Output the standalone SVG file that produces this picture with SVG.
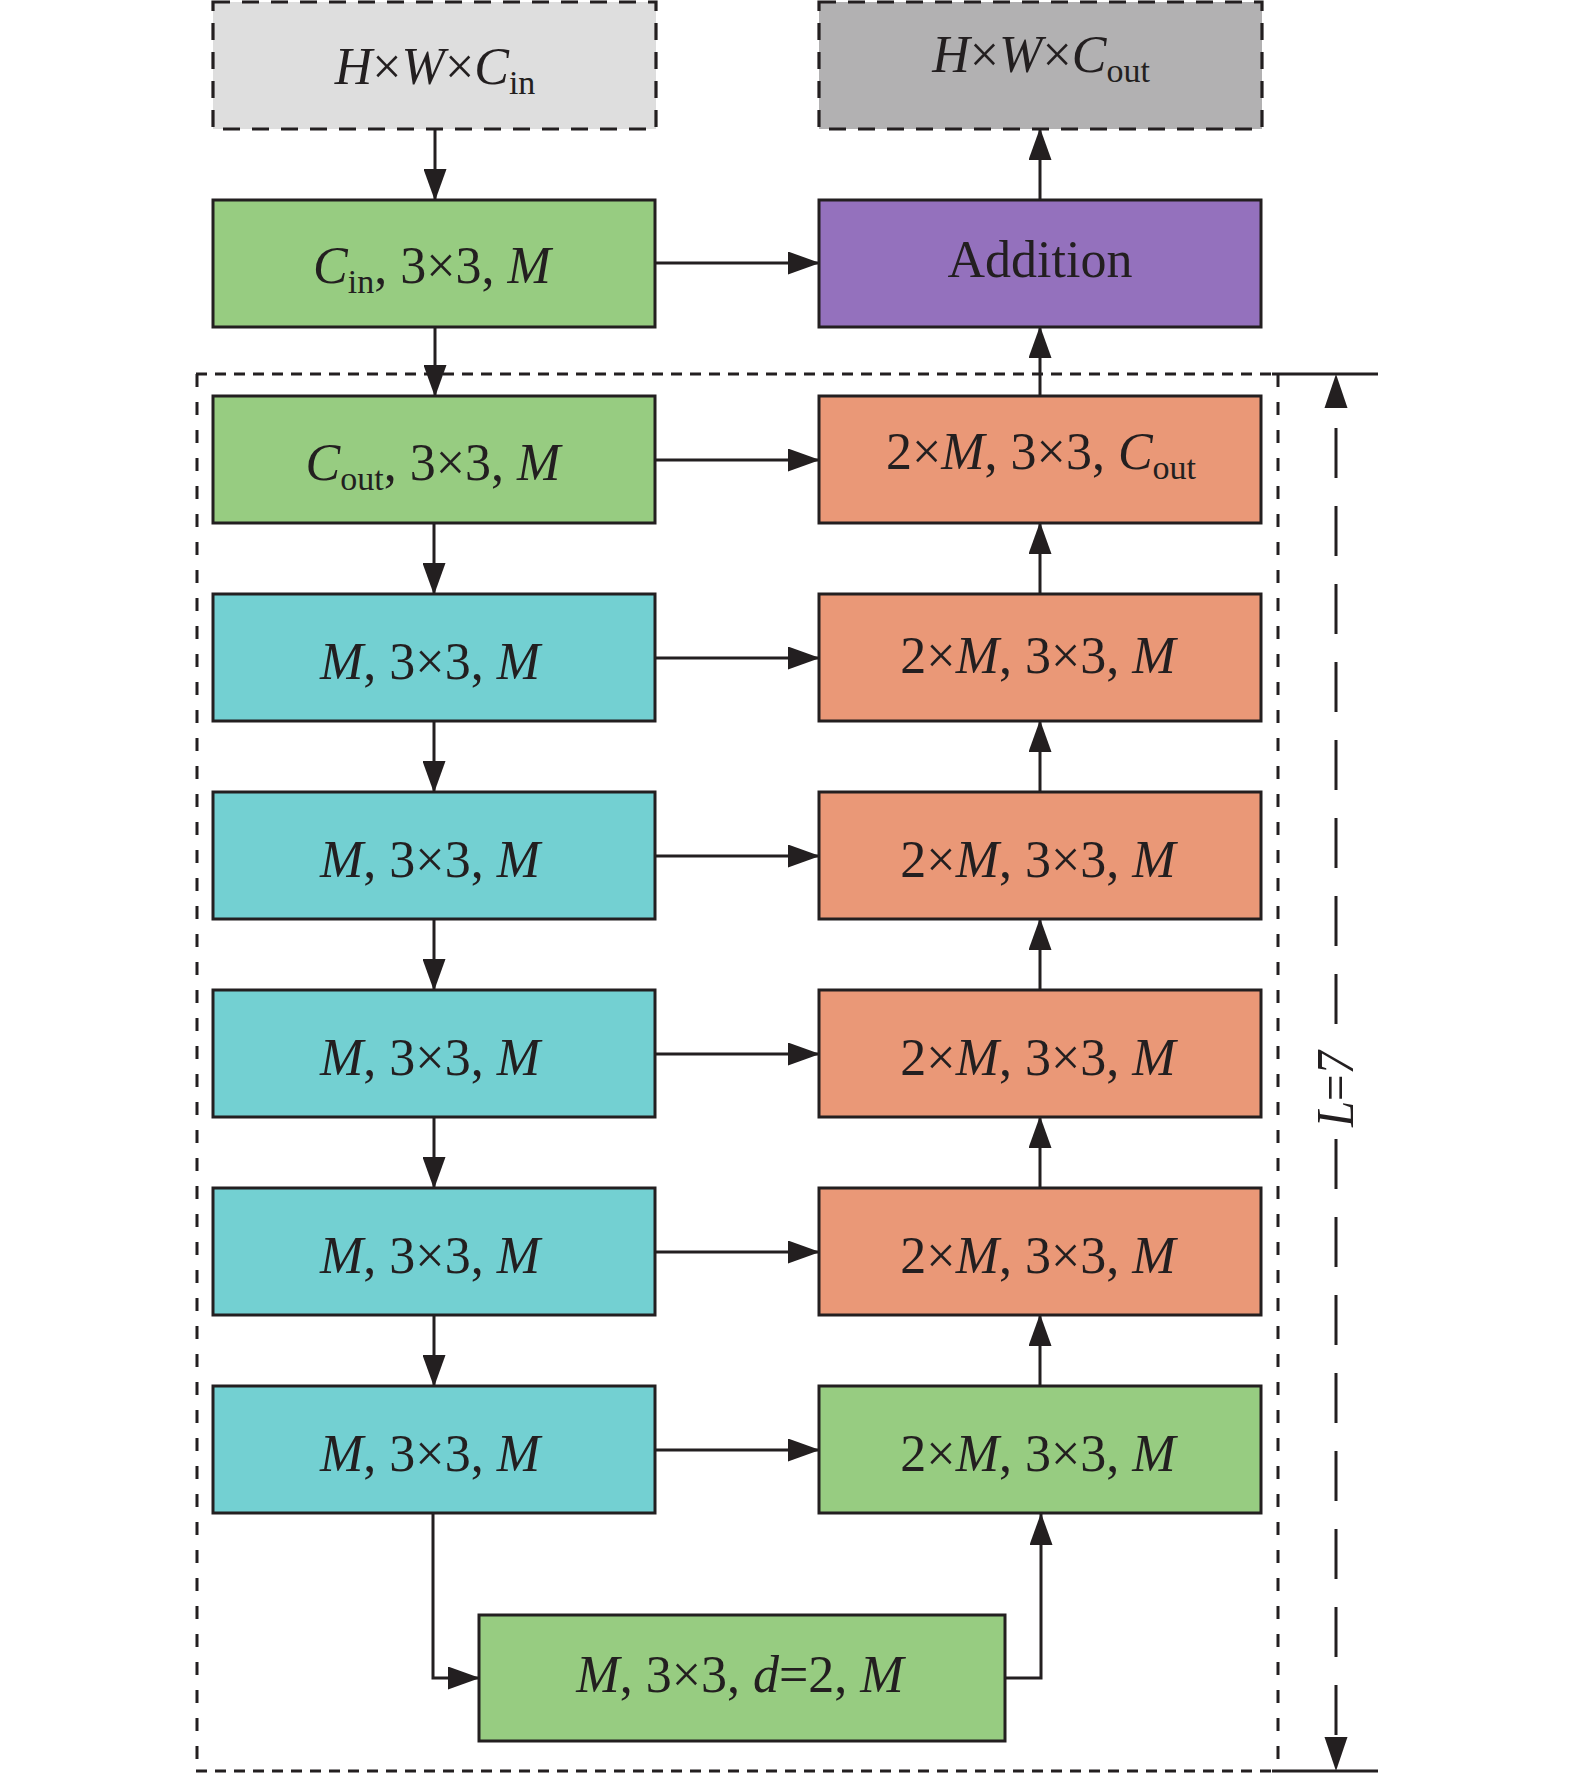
<svg xmlns="http://www.w3.org/2000/svg" width="1575" height="1774" viewBox="0 0 1575 1774">
<style>
.box{stroke:#231F20;stroke-width:3}
.dbox{stroke:#231F20;stroke-width:3.2;stroke-dasharray:17 12}
.g{fill:#97CC81}.c{fill:#73D0D2}.o{fill:#EA9877}.p{fill:#9471BD}
.t{font-family:"Liberation Serif","Times New Roman",serif;font-size:52px;fill:#231F20;text-anchor:middle}
.i{font-style:italic}
.s{font-size:34px}
.ln{fill:none;stroke:#231F20;stroke-width:3}
.fr{stroke:#231F20;stroke-width:3}
</style>
<defs>
<marker id="ah" markerUnits="userSpaceOnUse" markerWidth="32" markerHeight="23" refX="31" refY="11.5" orient="auto">
<path d="M0,0 L32,11.5 L0,23 z" fill="#231F20"/>
</marker>
</defs>
<rect width="1575" height="1774" fill="#fff"/>

<g id="frame">
<line x1="196" y1="374" x2="1278" y2="374" class="fr" stroke-dasharray="11 8"/>
<line x1="196" y1="1771" x2="1278" y2="1771" class="fr" stroke-dasharray="11 8"/>
<line x1="197" y1="374" x2="197" y2="1771" class="fr" stroke-dasharray="13 15"/>
<line x1="1278" y1="374" x2="1278" y2="1771" class="fr" stroke-dasharray="13 15"/>
</g>

<g id="dimension">
<line x1="1272" y1="374" x2="1378" y2="374" class="ln"/>
<line x1="1272" y1="1771" x2="1378" y2="1771" class="ln"/>
<path d="M1336,374 L1347.5,408 L1324.5,408 z" fill="#231F20"/>
<path d="M1336,1771 L1347.5,1737 L1324.5,1737 z" fill="#231F20"/>
<line x1="1336" y1="428" x2="1336" y2="1025" class="ln" stroke-dasharray="50 28"/>
<line x1="1336" y1="1139" x2="1336" y2="1740" class="ln" stroke-dasharray="50 28"/>
<text class="t i" transform="translate(1353,1089) rotate(-90)" textLength="76" lengthAdjust="spacingAndGlyphs">L<tspan font-style="normal">=</tspan>7</text>
</g>

<g id="connectors">
<line x1="435" y1="129" x2="435" y2="200" class="ln" marker-end="url(#ah)"/>
<line x1="435" y1="327" x2="435" y2="396" class="ln" marker-end="url(#ah)"/>
<line x1="655" y1="263" x2="819" y2="263" class="ln" marker-end="url(#ah)"/>
<line x1="1040" y1="200" x2="1040" y2="129" class="ln" marker-end="url(#ah)"/>
<line x1="1040" y1="396" x2="1040" y2="327" class="ln" marker-end="url(#ah)"/>
<line x1="655" y1="460" x2="819" y2="460" class="ln" marker-end="url(#ah)"/>
<line x1="434" y1="523" x2="434" y2="594" class="ln" marker-end="url(#ah)"/>
<line x1="1040" y1="594" x2="1040" y2="523" class="ln" marker-end="url(#ah)"/>
<line x1="655" y1="658" x2="819" y2="658" class="ln" marker-end="url(#ah)"/>
<line x1="434" y1="721" x2="434" y2="792" class="ln" marker-end="url(#ah)"/>
<line x1="1040" y1="792" x2="1040" y2="721" class="ln" marker-end="url(#ah)"/>
<line x1="655" y1="856" x2="819" y2="856" class="ln" marker-end="url(#ah)"/>
<line x1="434" y1="919" x2="434" y2="990" class="ln" marker-end="url(#ah)"/>
<line x1="1040" y1="990" x2="1040" y2="919" class="ln" marker-end="url(#ah)"/>
<line x1="655" y1="1054" x2="819" y2="1054" class="ln" marker-end="url(#ah)"/>
<line x1="434" y1="1117" x2="434" y2="1188" class="ln" marker-end="url(#ah)"/>
<line x1="1040" y1="1188" x2="1040" y2="1117" class="ln" marker-end="url(#ah)"/>
<line x1="655" y1="1252" x2="819" y2="1252" class="ln" marker-end="url(#ah)"/>
<line x1="434" y1="1315" x2="434" y2="1386" class="ln" marker-end="url(#ah)"/>
<line x1="1040" y1="1386" x2="1040" y2="1315" class="ln" marker-end="url(#ah)"/>
<line x1="655" y1="1450" x2="819" y2="1450" class="ln" marker-end="url(#ah)"/>
<path d="M433,1513 L433,1678 L479,1678" class="ln" marker-end="url(#ah)"/>
<path d="M1005,1678 L1041,1678 L1041,1514" class="ln" marker-end="url(#ah)"/>
</g>

<g id="input">
<rect x="213" y="2" width="443" height="127" fill="#DEDEDE" class="dbox"/>
<text class="t" x="435" y="84"><tspan class="i">H</tspan>×<tspan class="i">W</tspan>×<tspan class="i">C</tspan><tspan class="s" dy="10">in</tspan></text>
</g>
<g id="output">
<rect x="819" y="2" width="443" height="127" fill="#B2B1B2" class="dbox"/>
<text class="t" x="1041" y="72"><tspan class="i">H</tspan>×<tspan class="i">W</tspan>×<tspan class="i">C</tspan><tspan class="s" dy="10">out</tspan></text>
</g>
<g id="conv-in">
<rect x="213" y="200" width="442" height="127" class="box g"/>
<text class="t" x="432" y="283"><tspan class="i">C</tspan><tspan class="s" dy="10">in</tspan><tspan dy="-10">, 3×3, </tspan><tspan class="i">M</tspan></text>
</g>
<g id="addition">
<rect x="819" y="200" width="442" height="127" class="box p"/>
<text class="t" x="1040" y="277">Addition</text>
</g>
<g id="enc1">
<rect x="213" y="396" width="442" height="127" class="box g"/>
<text class="t" x="433" y="480"><tspan class="i">C</tspan><tspan class="s" dy="10">out</tspan><tspan dy="-10">, 3×3, </tspan><tspan class="i">M</tspan></text>
</g>
<g id="dec1">
<rect x="819" y="396" width="442" height="127" class="box o"/>
<text class="t" x="1041" y="469">2×<tspan class="i">M</tspan>, 3×3, <tspan class="i">C</tspan><tspan class="s" dy="10">out</tspan></text>
</g>
<g id="enc2">
<rect x="213" y="594" width="442" height="127" class="box c"/>
<text class="t" x="430" y="679"><tspan class="i">M</tspan>, 3×3, <tspan class="i">M</tspan></text>
</g>
<g id="dec2">
<rect x="819" y="594" width="442" height="127" class="box o"/>
<text class="t" x="1038" y="673">2×<tspan class="i">M</tspan>, 3×3, <tspan class="i">M</tspan></text>
</g>
<g id="enc3">
<rect x="213" y="792" width="442" height="127" class="box c"/>
<text class="t" x="430" y="877"><tspan class="i">M</tspan>, 3×3, <tspan class="i">M</tspan></text>
</g>
<g id="dec3">
<rect x="819" y="792" width="442" height="127" class="box o"/>
<text class="t" x="1038" y="877">2×<tspan class="i">M</tspan>, 3×3, <tspan class="i">M</tspan></text>
</g>
<g id="enc4">
<rect x="213" y="990" width="442" height="127" class="box c"/>
<text class="t" x="430" y="1075"><tspan class="i">M</tspan>, 3×3, <tspan class="i">M</tspan></text>
</g>
<g id="dec4">
<rect x="819" y="990" width="442" height="127" class="box o"/>
<text class="t" x="1038" y="1075">2×<tspan class="i">M</tspan>, 3×3, <tspan class="i">M</tspan></text>
</g>
<g id="enc5">
<rect x="213" y="1188" width="442" height="127" class="box c"/>
<text class="t" x="430" y="1273"><tspan class="i">M</tspan>, 3×3, <tspan class="i">M</tspan></text>
</g>
<g id="dec5">
<rect x="819" y="1188" width="442" height="127" class="box o"/>
<text class="t" x="1038" y="1273">2×<tspan class="i">M</tspan>, 3×3, <tspan class="i">M</tspan></text>
</g>
<g id="enc6">
<rect x="213" y="1386" width="442" height="127" class="box c"/>
<text class="t" x="430" y="1471"><tspan class="i">M</tspan>, 3×3, <tspan class="i">M</tspan></text>
</g>
<g id="dec6">
<rect x="819" y="1386" width="442" height="127" class="box g"/>
<text class="t" x="1038" y="1471">2×<tspan class="i">M</tspan>, 3×3, <tspan class="i">M</tspan></text>
</g>
<g id="bridge">
<rect x="479" y="1615" width="526" height="126" class="box g"/>
<text class="t" x="740" y="1692"><tspan class="i">M</tspan>, 3×3, <tspan class="i">d</tspan>=2, <tspan class="i">M</tspan></text>
</g>
</svg>
